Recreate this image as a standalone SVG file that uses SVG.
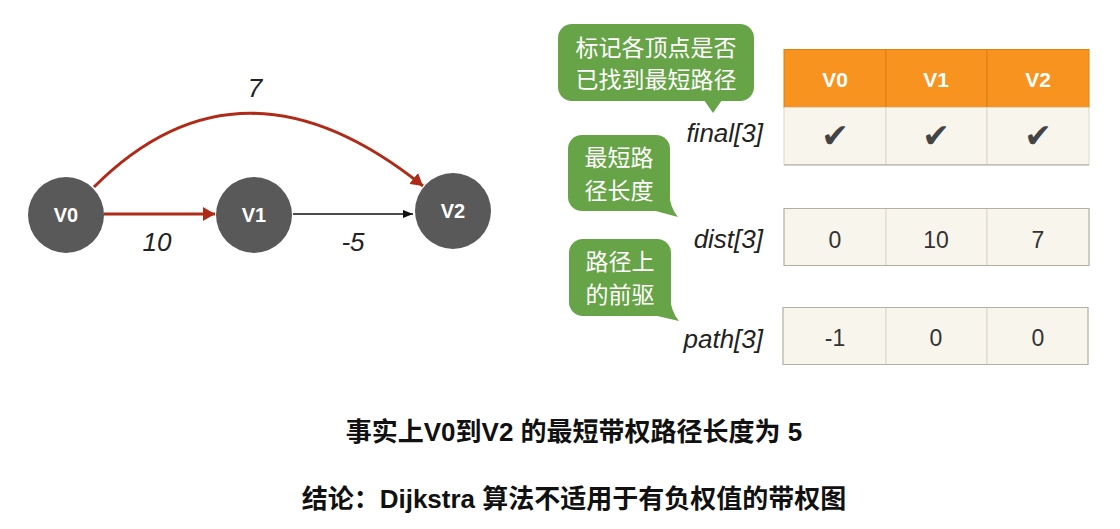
<svg xmlns="http://www.w3.org/2000/svg" width="1120" height="529" viewBox="0 0 1120 529">
<style>
.node{fill:#595959}
.ntxt{font-family:"Liberation Sans",Arial,sans-serif;font-weight:bold;font-size:20px;fill:#fff;text-anchor:middle}
.elab{font-family:"Liberation Sans",Arial,sans-serif;font-style:italic;font-size:26px;fill:#222;text-anchor:middle}
.rlab{font-family:"Liberation Sans",Arial,sans-serif;font-style:italic;font-size:26px;fill:#222;text-anchor:end}
.hdr{fill:#F7931E;stroke:#D9820F;stroke-width:1}
.cell{fill:#F8F5EC;stroke:#DDD8CB;stroke-width:1}
.htxt{font-family:"Liberation Sans",Arial,sans-serif;font-weight:bold;font-size:21px;fill:#fff;text-anchor:middle}
.ctxt{font-family:"Liberation Sans",Arial,sans-serif;font-size:23px;fill:#333;text-anchor:middle}
.chk{font-family:"DejaVu Sans",sans-serif;font-size:33px;fill:#444;text-anchor:middle}
.bub{fill:#67A447}
.btxt{font-family:"Liberation Sans","Noto Sans CJK SC",sans-serif;font-size:23px;fill:#fff;text-anchor:middle}
.big{font-family:"Liberation Sans","Noto Sans CJK SC",sans-serif;font-weight:bold;font-size:26px;fill:#111;text-anchor:middle}
.red{fill:none;stroke:#B02A18;stroke-width:3}
.blk{fill:none;stroke:#111;stroke-width:1.5}
</style>
<defs>
<marker id="ar" markerUnits="userSpaceOnUse" markerWidth="14" markerHeight="14" refX="12" refY="7" orient="auto"><path d="M0,0 L12,7 L0,14 z" fill="#B02A18"/></marker>
<marker id="ab" markerUnits="userSpaceOnUse" markerWidth="11" markerHeight="10" refX="10" refY="4" orient="auto"><path d="M0,0 L10,4 L0,8 z" fill="#111"/></marker>
</defs>
<rect width="1120" height="529" fill="#fff"/>

<g id="connectors">
<path class="red" d="M104,214 L215,214" marker-end="url(#ar)"/>
<path class="blk" d="M293,214 L413,214" marker-end="url(#ab)"/>
<path class="red" d="M94,187 Q241,40 423,186" marker-end="url(#ar)"/>
<text class="elab" x="255" y="97">7</text>
<text class="elab" x="157" y="251">10</text>
<text class="elab" x="353" y="251">-5</text>
</g>

<g id="node-V0"><circle class="node" cx="66" cy="215" r="38"/><text class="ntxt" x="66" y="222">V0</text></g>
<g id="node-V1"><circle class="node" cx="254" cy="215" r="38"/><text class="ntxt" x="254" y="222">V1</text></g>
<g id="node-V2"><circle class="node" cx="453" cy="211" r="38"/><text class="ntxt" x="453" y="218">V2</text></g>

<g id="bubble-final">
<rect class="bub" x="558" y="24" width="196" height="77" rx="14"/>
<path class="bub" d="M704,100 L713,113 L722,100 z"/>
<text class="btxt" x="656" y="56">标记各顶点是否</text>
<text class="btxt" x="656" y="88">已找到最短路径</text>
</g>
<g id="bubble-dist">
<rect class="bub" x="568" y="135" width="102" height="76" rx="14"/>
<path class="bub" d="M652,210 L678,217 Q670,208 669,192 z"/>
<text class="btxt" x="619" y="166">最短路</text>
<text class="btxt" x="619" y="199">径长度</text>
</g>
<g id="bubble-path">
<rect class="bub" x="569" y="239" width="102" height="77" rx="14"/>
<path class="bub" d="M653,315 L679,321 Q671,312 670,296 z"/>
<text class="btxt" x="620" y="270">路径上</text>
<text class="btxt" x="620" y="303">的前驱</text>
</g>

<g id="table-header">
<rect class="hdr" x="784" y="49.5" width="102" height="58"/>
<rect class="hdr" x="886" y="49.5" width="101" height="58"/>
<rect class="hdr" x="987" y="49.5" width="102" height="58"/>
<text class="htxt" x="835" y="87">V0</text>
<text class="htxt" x="936" y="87">V1</text>
<text class="htxt" x="1038" y="87">V2</text>
</g>

<g id="row-final">
<text class="rlab" x="763" y="142">final[3]</text>
<rect class="cell" x="784" y="107.5" width="102" height="57"/>
<rect class="cell" x="886" y="107.5" width="101" height="57"/>
<rect class="cell" x="987" y="107.5" width="102" height="57"/>
<line x1="784" y1="165" x2="1089" y2="165" stroke="#A9A59C" stroke-width="1.2"/>
<text class="chk" x="835" y="147">✔</text>
<text class="chk" x="936" y="147">✔</text>
<text class="chk" x="1038" y="147">✔</text>
</g>

<g id="row-dist">
<text class="rlab" x="763" y="248">dist[3]</text>
<rect class="cell" x="784" y="208.5" width="102" height="57"/>
<rect class="cell" x="886" y="208.5" width="101" height="57"/>
<rect class="cell" x="987" y="208.5" width="102" height="57"/>
<rect x="784" y="208.5" width="305" height="57" fill="none" stroke="#B3AFA6" stroke-width="1"/>
<text class="ctxt" x="835" y="248">0</text>
<text class="ctxt" x="936" y="248">10</text>
<text class="ctxt" x="1038" y="248">7</text>
</g>

<g id="row-path">
<text class="rlab" x="763" y="348">path[3]</text>
<rect class="cell" x="783" y="307.5" width="103" height="57"/>
<rect class="cell" x="886" y="307.5" width="101" height="57"/>
<rect class="cell" x="987" y="307.5" width="101" height="57"/>
<rect x="783" y="307.5" width="305" height="57" fill="none" stroke="#B3AFA6" stroke-width="1"/>
<text class="ctxt" x="835" y="346">-1</text>
<text class="ctxt" x="936" y="346">0</text>
<text class="ctxt" x="1038" y="346">0</text>
</g>

<g id="caption">
<text class="big" x="574" y="441">事实上V0到V2 的最短带权路径长度为 5</text>
<text class="big" x="574" y="508">结论：Dijkstra 算法不适用于有负权值的带权图</text>
</g>
</svg>
